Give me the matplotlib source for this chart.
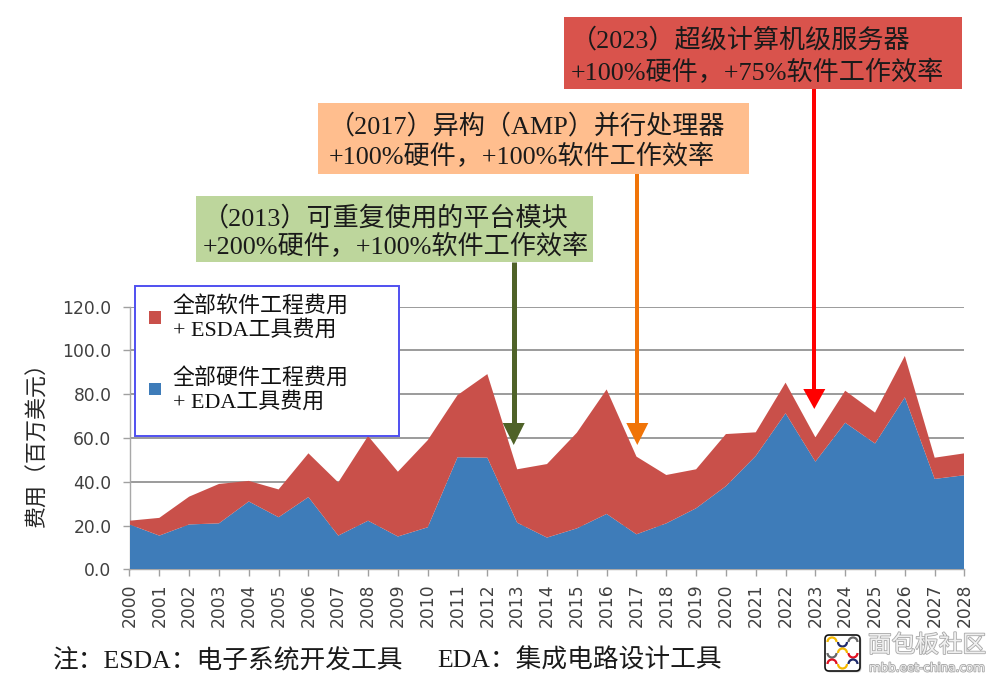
import matplotlib
matplotlib.use("Agg")
import matplotlib.pyplot as plt
from matplotlib.patches import Rectangle, Polygon, FancyBboxPatch, Arc
from matplotlib import patheffects as pe

years = list(range(2000, 2029))
hardware = [20.5, 15.4, 20.5, 21.0, 31.0, 23.8, 33.0, 15.4, 22.2, 15.0, 19.2, 51.2, 51.0, 21.3, 14.5,
            18.7, 25.3, 16.0, 21.0, 27.9, 38.0, 51.8, 71.3, 49.2, 67.0, 57.5, 78.6, 41.3, 43.0]
software = [1.7, 8.1, 12.7, 18.0, 9.4, 12.7, 20.0, 24.3, 38.7, 29.6, 39.8, 28.4, 38.2, 24.4, 33.6,
            43.7, 56.9, 35.5, 22.1, 17.8, 23.8, 10.8, 14.0, 11.1, 14.6, 14.1, 18.9, 9.7, 10.0]
yticks = [0, 20, 40, 60, 80, 100, 120]
legend_labels = ["全部硬件工程费用\n+ EDA工具费用", "全部软件工程费用\n+ ESDA工具费用"]
ylabel = "费用（百万美元）"
callouts = [
    ("（2013）可重复使用的平台模块", "+200%硬件，+100%软件工作效率"),
    ("（2017）异构（AMP）并行处理器", "+100%硬件，+100%软件工作效率"),
    ("（2023）超级计算机级服务器", "+100%硬件，+75%软件工作效率"),
]
footnote_a = "注：ESDA：电子系统开发工具"
footnote_b = "EDA：集成电路设计工具"

BLUE, RED = "#3E7CB9", "#C9504A"
SERIF = ["Liberation Serif", "Noto Sans CJK SC"]

fig = plt.figure(figsize=(10, 6.85), dpi=100, facecolor="white")
W, H = 1000, 685
left, right, top, bottom = 129.5, 964.5, 306.7, 569.3
ax = fig.add_axes([left / W, 1 - bottom / H, (right - left) / W, (bottom - top) / H])
polys = ax.stackplot(years, hardware, software, colors=[BLUE, RED], zorder=3, linewidth=0)
ax.set_xlim(2000, 2028)
ax.set_ylim(0, 120)
ax.set_yticks(yticks, [f"{v:.1f}" for v in yticks])
ax.set_xticks(years, [str(y) for y in years], rotation=90)
ax.grid(axis="y", color="#8a8a8a", lw=1.2, zorder=1)
ax.set_axisbelow(True)
for s in ("top", "right"):
    ax.spines[s].set_visible(False)
for s in ("left", "bottom"):
    ax.spines[s].set_color("#a8a8a8")
    ax.spines[s].set_linewidth(1.0)
ax.tick_params(axis="y", length=5, width=1, color="#a0a0a0", labelcolor="#404040", labelsize=12.3, pad=8)
ax.tick_params(axis="x", length=5, width=1, color="#a0a0a0", labelcolor="#404040", labelsize=12.3, pad=5)

ov = fig.add_axes([0, 0, 1, 1], zorder=5)
ov.set_xlim(0, W)
ov.set_ylim(H, 0)
ov.axis("off")
ov.patch.set_alpha(0)

# y label
ov.text(38.5, 440, ylabel, rotation=90, ha="center", va="center", fontsize=15.8, family=SERIF, color="#262626")

# legend frame and legend
ov.add_patch(Rectangle((135, 286), 264, 150, fc="white", ec="#5050F0", lw=1.4, zorder=2))
leg = ov.legend([polys[1], polys[0]], [legend_labels[1], legend_labels[0]],
                loc="upper left", bbox_to_anchor=(145 / W, 1 - 291.5 / H), bbox_transform=fig.transFigure,
                frameon=False, prop={"family": SERIF, "size": 15.8},
                handlelength=0.52, handleheight=0.52, handletextpad=0.55, labelspacing=1.22,
                borderpad=0.2, borderaxespad=0, labelcolor="#111111")

# callouts
boxes = [(196, 196, 592.5, 262, "#BDD69C"), (318, 103, 748.5, 174, "#FFBE8E"), (563.5, 17, 961.5, 89, "#D9534C")]
txt = [(203, 218, 246), (329, 126, 156), (571, 40, 72)]
arrows = [(513.7, 262, 423, 445, "#4F6228", 5), (637.3, 174, 423, 445, "#F07408", 4), (814.3, 89, 389, 409, "#FF0000", 4)]
for (x0, y0, x1, y1, c), (tx, y_a, y_b), (l1, l2) in zip(boxes, txt, callouts):
    ov.add_patch(Rectangle((x0, y0), x1 - x0, y1 - y0, fc=c, ec="none", zorder=3))
    ov.text(tx, y_a, l1, fontsize=18.8, family=SERIF, ha="left", va="center", color="#1a1a1a", zorder=4)
    ov.text(tx, y_b, l2, fontsize=18.8, family=SERIF, ha="left", va="center", color="#1a1a1a", zorder=4)
for x, y0, yh, yt, c, w in arrows:
    ov.plot([x, x], [y0, yh + 1], color=c, lw=w * 0.72, solid_capstyle="butt", zorder=4)
    ov.add_patch(Polygon([(x - 11, yh), (x + 11, yh), (x, yt)], closed=True, fc=c, ec="none", zorder=4))

# footnote
ov.text(53, 661, footnote_a, fontsize=18.5, family=SERIF, ha="left", va="center", color="#1a1a1a")
ov.text(437, 661, footnote_b, fontsize=18.5, family=SERIF, ha="left", va="center", color="#1a1a1a")

# watermark
ov.add_patch(FancyBboxPatch((825, 635), 35, 36, boxstyle="round,pad=0,rounding_size=4", fc="white", ec="#111111", lw=1.2, zorder=6,
                            path_effects=[pe.withSimplePatchShadow(offset=(1, -1), alpha=0.3)]))
arc_cols = [["#F5B800", "#1F2A6B", "#666666"], ["#666666", "#F5B800", "#E01020"], ["#E01020", "#F5B800", "#1F2A6B"]]
for r, row in enumerate(arc_cols):
    for c, col in enumerate(row):
        cx, cy = 832 + c * 10.5, 642 + r * 11
        ov.add_patch(Arc((cx, cy), 9, 9, theta1=0 if (r + c) % 2 else 180, theta2=180 if (r + c) % 2 else 360,
                         color=col, lw=1.6, zorder=7))
shadow = [pe.withStroke(linewidth=1.2, foreground="#a8a8a8")]
ov.text(868, 646, "面包板社区", fontsize=17, family=SERIF, color="#f0f0f0", ha="left", va="center", path_effects=shadow, zorder=6)
ov.text(869, 668, "mbb.eet-china.com", fontsize=8.6, family="DejaVu Sans", color="#f0f0f0", ha="left", va="center",
        path_effects=shadow, zorder=6)

fig.savefig("out.png", dpi=100)
